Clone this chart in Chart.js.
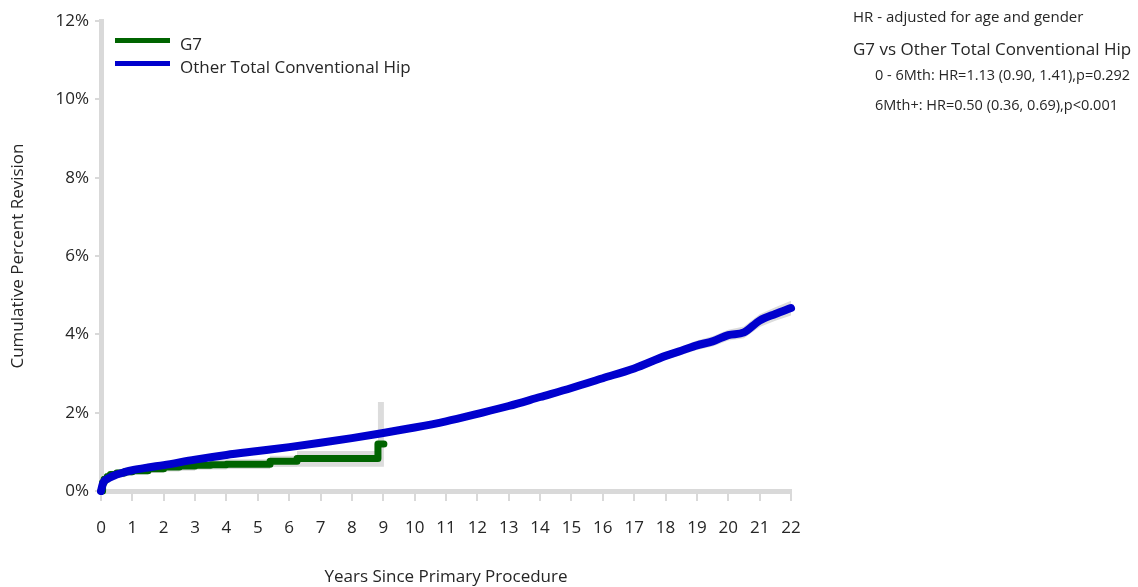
<!DOCTYPE html>
<html>
<head>
<meta charset="utf-8">
<script src="https://cdn.jsdelivr.net/npm/chart.js@4.4.1/dist/chart.umd.min.js"></script>
<style>
  body { margin: 0; background: #fff; font-family: "Open Sans", sans-serif; color: #262626; }
  #wrap { position: relative; width: 1138px; height: 587px; }
  canvas { position: absolute; left: 0; top: 0; }
  .lg-line { position: absolute; left: 115px; width: 55px; height: 5px; }
  .lg-text { position: absolute; left: 180px; font-size: 17px; line-height: 20px; white-space: nowrap; }
  .note { position: absolute; white-space: nowrap; }
</style>
</head>
<body>
<div id="wrap">
  <canvas id="chart" width="1138" height="587"></canvas>
  <div class="lg-line" style="top:38px;background:#006400"></div>
  <div class="lg-text" style="top:34px">G7</div>
  <div class="lg-line" style="top:61px;background:#0000cd"></div>
  <div class="lg-text" style="top:57px">Other Total Conventional Hip</div>

  <div class="note" style="left:853px;top:7px;font-size:15px;line-height:18px">HR - adjusted for age and gender</div>
  <div class="note" style="left:853px;top:38px;font-size:17px;line-height:22px">G7 vs Other Total Conventional Hip</div>
  <div class="note" style="left:875px;top:66px;font-size:14.5px;line-height:18px">0 - 6Mth: HR=1.13 (0.90, 1.41),p=0.292</div>
  <div class="note" style="left:875px;top:96px;font-size:14.5px;line-height:18px">6Mth+: HR=0.50 (0.36, 0.69),p&lt;0.001</div>
</div>
<script>
// --- 데이터 ---
const yearTicks = [0, 1, 2, 3, 4, 5, 6, 7, 8, 9, 10, 11, 12, 13, 14, 15, 16, 17, 18, 19, 20, 21, 22];
const percentTicks = [0, 2, 4, 6, 8, 10, 12];

// G7 (계단형)
const g7Years = [0, 0.05, 0.1, 0.2, 0.3, 0.5, 0.75, 1, 1.5, 2, 2.5, 3, 3.5, 4, 5.39, 6.25, 8.83, 9.02];
const g7Cpr   = [0, 0.22, 0.3, 0.37, 0.42, 0.46, 0.49, 0.52, 0.57, 0.61, 0.64, 0.66, 0.67, 0.68, 0.76, 0.83, 1.2, 1.2];
const g7Lower = [0, 0.12, 0.18, 0.25, 0.3, 0.35, 0.39, 0.42, 0.46, 0.5, 0.52, 0.54, 0.55, 0.56, 0.61, 0.62, 0.62, 0.62];
const g7Upper = [0, 0.3, 0.4, 0.47, 0.52, 0.56, 0.6, 0.63, 0.68, 0.73, 0.76, 0.79, 0.8, 0.81, 0.9, 1.02, 2.27, 2.27];

// Other Total Conventional Hip
const otherYears = [0, 0.05, 0.1, 0.25, 0.5, 0.75, 1, 1.5, 2, 3, 4, 5, 6, 7, 8, 9, 10, 11, 12, 13, 14, 15, 16, 17, 18, 18.5, 19, 19.5, 20, 20.5, 21, 21.5, 22];
const otherCpr   = [0, 0.16, 0.25, 0.33, 0.42, 0.48, 0.53, 0.6, 0.66, 0.8, 0.92, 1.02, 1.12, 1.23, 1.35, 1.48, 1.62, 1.78, 1.97, 2.17, 2.4, 2.63, 2.88, 3.13, 3.45, 3.58, 3.72, 3.82, 3.98, 4.05, 4.35, 4.52, 4.67];
const otherLower = [0, 0.14, 0.23, 0.31, 0.4, 0.46, 0.51, 0.58, 0.64, 0.78, 0.9, 1.0, 1.09, 1.2, 1.32, 1.44, 1.58, 1.74, 1.92, 2.12, 2.34, 2.56, 2.8, 3.04, 3.35, 3.47, 3.6, 3.69, 3.84, 3.9, 4.19, 4.35, 4.48];
const otherUpper = [0, 0.18, 0.27, 0.35, 0.44, 0.5, 0.55, 0.62, 0.68, 0.82, 0.94, 1.04, 1.15, 1.26, 1.38, 1.52, 1.66, 1.82, 2.02, 2.22, 2.46, 2.7, 2.96, 3.22, 3.55, 3.69, 3.84, 3.95, 4.12, 4.2, 4.51, 4.69, 4.86];

const toXY = (xs, ys) => xs.map((x, i) => ({ x, y: ys[i] }));

const bandGray = '#dcdcdc';
const textColor = '#262626';
const axisGray = '#d9d9d9';
const font17 = { family: 'Open Sans', size: 17 };

const ctx = document.getElementById('chart').getContext('2d');
new Chart(ctx, {
  type: 'line',
  data: {
    datasets: [
      { data: toXY(g7Years, g7Lower), stepped: 'before', borderWidth: 0, pointRadius: 0, fill: false, order: 3 },
      { data: toXY(g7Years, g7Upper), stepped: 'before', borderWidth: 0, pointRadius: 0, fill: '-1', backgroundColor: bandGray, order: 3 },
      { data: toXY(otherYears, otherLower), borderWidth: 0, pointRadius: 0, fill: false, order: 3 },
      { data: toXY(otherYears, otherUpper), borderWidth: 0, pointRadius: 0, fill: '-1', backgroundColor: bandGray, order: 3 },
      {
        label: 'G7', data: toXY(g7Years, g7Cpr), stepped: 'before',
        borderColor: '#006400', borderWidth: 7, pointRadius: 0, borderCapStyle: 'round', borderJoinStyle: 'round',
        fill: false, order: 2, clip: 8
      },
      {
        label: 'Other Total Conventional Hip', data: toXY(otherYears, otherCpr),
        borderColor: '#0000cd', borderWidth: 8, pointRadius: 0, borderCapStyle: 'round', borderJoinStyle: 'round',
        cubicInterpolationMode: 'monotone', fill: false, order: 1, clip: 8
      }
    ]
  },
  options: {
    responsive: false,
    animation: false,
    layout: { padding: { top: 21, right: 347, left: 0, bottom: 0 } },
    plugins: { legend: { display: false }, tooltip: { enabled: false } },
    scales: {
      x: {
        type: 'linear', min: 0, max: 22,
        afterBuildTicks: s => { s.ticks = yearTicks.map(v => ({ value: v })); },
        afterFit: s => { s.height = 96; },
        ticks: { color: textColor, font: font17, padding: 17, maxRotation: 0 },
        grid: { display: true, drawOnChartArea: false, drawTicks: true, tickLength: 10, color: axisGray, lineWidth: 2 },
        border: { display: true, color: axisGray, width: 5 },
        title: { display: true, text: 'Years Since Primary Procedure', color: textColor, font: font17, padding: { top: 0, bottom: 0 } }
      },
      y: {
        type: 'linear', min: 0, max: 12,
        afterBuildTicks: s => { s.ticks = percentTicks.map(v => ({ value: v })); },
        afterFit: s => { s.width = 101; },
        ticks: { color: textColor, font: font17, padding: 6, callback: v => v + '%' },
        grid: { display: true, drawOnChartArea: false, drawTicks: true, tickLength: 6, color: axisGray, lineWidth: 2 },
        border: { display: true, color: axisGray, width: 5 },
        title: { display: true, text: 'Cumulative Percent Revision', color: textColor, font: font17, padding: { top: 8, bottom: 0 } }
      }
    }
  }
});
</script>
</body>
</html>
